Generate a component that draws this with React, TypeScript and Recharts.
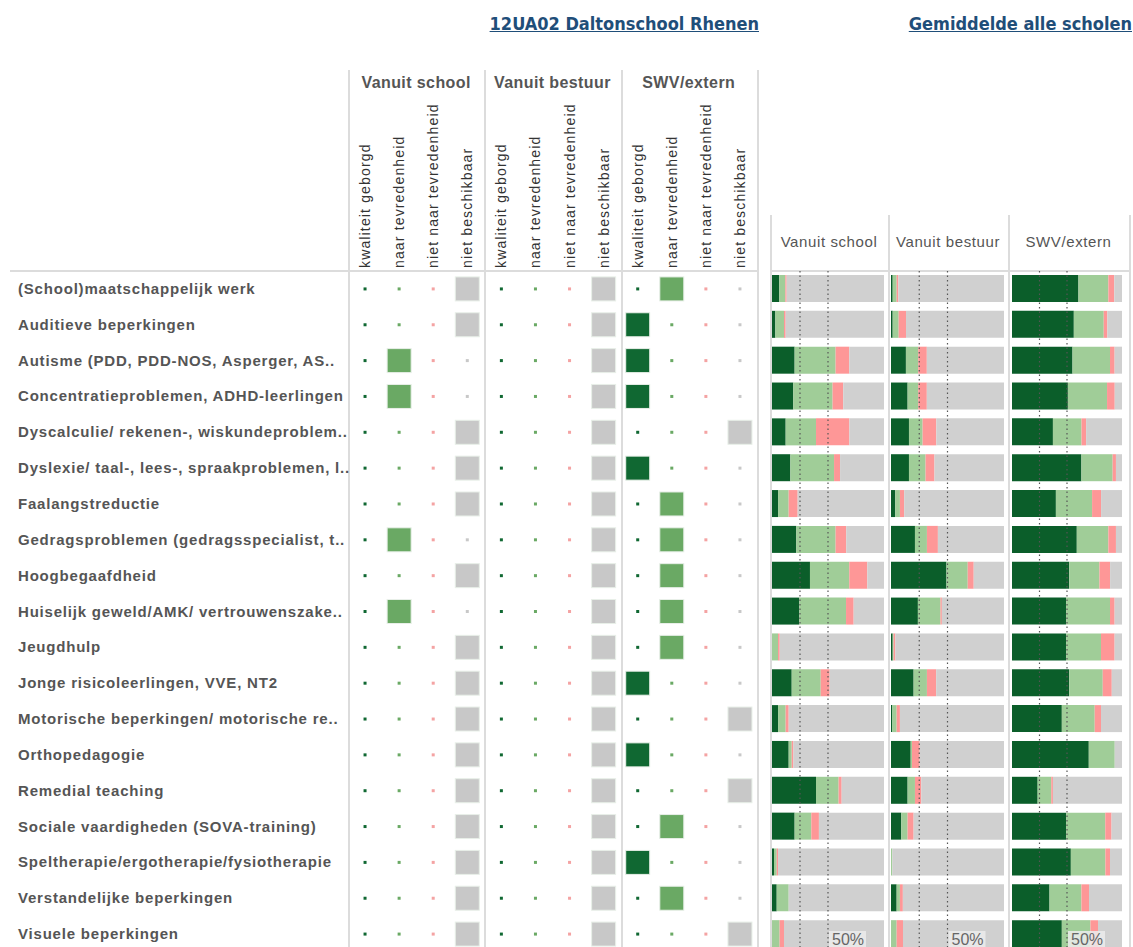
import React from 'react';
import {
  ScatterChart,
  Scatter,
  BarChart,
  Bar,
  XAxis,
  YAxis,
  ReferenceLine,
} from 'recharts';

const rowLabels = [
  '(School)maatschappelijk werk',
  'Auditieve beperkingen',
  'Autisme (PDD, PDD-NOS, Asperger, AS..',
  'Concentratieproblemen, ADHD-leerlingen',
  'Dyscalculie/ rekenen-, wiskundeproblem..',
  'Dyslexie/ taal-, lees-, spraakproblemen, l..',
  'Faalangstreductie',
  'Gedragsproblemen (gedragsspecialist, t..',
  'Hoogbegaafdheid',
  'Huiselijk geweld/AMK/ vertrouwenszake..',
  'Jeugdhulp',
  'Jonge risicoleerlingen, VVE, NT2',
  'Motorische beperkingen/ motorische re..',
  'Orthopedagogie',
  'Remedial teaching',
  'Sociale vaardigheden (SOVA-training)',
  'Speltherapie/ergotherapie/fysiotherapie',
  'Verstandelijke beperkingen',
  'Visuele beperkingen',
];

const groupLabels = ['Vanuit school', 'Vanuit bestuur', 'SWV/extern'];
const columnLabels = ['kwaliteit geborgd', 'naar tevredenheid', 'niet naar tevredenheid', 'niet beschikbaar'];

// answer of this school per group: 0 = geborgd, 1 = tevreden, 2 = niet tevreden, 3 = niet beschikbaar
const schoolChoice = [3, 3, 1, 1, 3, 3, 3, 1, 3, 1, 3, 3, 3, 3, 3, 3, 3, 3, 3];
const bestuurChoice = [3, 3, 3, 3, 3, 3, 3, 3, 3, 3, 3, 3, 3, 3, 3, 3, 3, 3, 3];
const swvChoice = [1, 0, 0, 0, 3, 0, 1, 1, 1, 1, 1, 0, 3, 0, 3, 1, 0, 1, 3];

// average of all schools, percentages
const schoolGeborgd = [6.5, 3, 20.2, 19, 12.2, 16.4, 5.4, 21.7, 33.9, 24.4, 0, 17.6, 5.4, 14.9, 39.3, 20.2, 1.8, 4.2, 0];
const schoolTevreden = [5.4, 7.7, 36.6, 35.1, 27.1, 39, 9.5, 35.1, 35.1, 41.7, 5.4, 25.9, 6.8, 2.7, 20.2, 14.9, 2.4, 10.7, 6.8];
const schoolNiet = [1.2, 1.5, 12.2, 9.5, 29.8, 5.4, 8, 9.5, 16.1, 6.8, 1.5, 8, 2.7, 1.5, 2.7, 6.8, 1.2, 0, 3.9];

const bestuurGeborgd = [1.5, 1.5, 13.2, 14.7, 15.9, 15.9, 3.8, 21.2, 49.1, 23.8, 1.5, 20, 1.2, 17.4, 14.7, 9.1, 0, 5, 0];
const bestuurTevreden = [3.5, 5.3, 10.9, 9.4, 12.1, 14.7, 4.1, 10.6, 18.8, 20, 0.8, 11.8, 3.8, 1.2, 6.5, 5.6, 1.2, 2.9, 5];
const bestuurNiet = [1.5, 6.5, 7.6, 7.6, 12.1, 7.9, 3.8, 9.7, 5.3, 1.2, 1.5, 8.2, 2.9, 6.8, 5.6, 5.3, 0, 2.6, 5.6];

const swvGeborgd = [60.4, 56.2, 55, 50.8, 37.2, 63.1, 39.9, 58.9, 52, 49.2, 49.2, 52, 45.3, 69.8, 23.3, 49.2, 53.5, 34.1, 45.3];
const swvTevreden = [27.2, 27.2, 34.1, 35.6, 26, 28.4, 32.9, 28.7, 27.5, 39.9, 31.7, 30.5, 29.9, 23.6, 12.4, 35.6, 31.4, 29, 26];
const swvNiet = [5.4, 3.3, 4.2, 7, 4.2, 3, 8.2, 6.9, 9.7, 4.2, 12.4, 8.2, 5.7, 0, 1.5, 5.7, 4.2, 6.9, 6.9];

const FONT = '"Liberation Sans", Arial, sans-serif';
const TITLE_FONT = '"DejaVu Sans Condensed", "Liberation Sans", Arial, sans-serif';
const markColors = ['#106832', '#6aa964', '#f4a3a3', '#c8c8c8'];
const barColors = ['#0b5e2a', '#a0cd98', '#fe9797', '#d0d0d0'];

const choices = [schoolChoice, bestuurChoice, swvChoice];

const scatterSeries = columnLabels.map((_, c) =>
  choices.flatMap((choice, g) =>
    rowLabels.map((_, r) => ({ x: g * 4 + c, y: r, on: choice[r] === c }))
  )
);

const makeBars = (a: number[], b: number[], c: number[]) =>
  rowLabels.map((name, i) => ({
    name,
    geborgd: a[i],
    tevreden: b[i],
    niet: c[i],
    rest: Math.max(0, 100 - a[i] - b[i] - c[i]),
  }));

const panels = [
  { label: 'Vanuit school', left: 772, width: 112, data: makeBars(schoolGeborgd, schoolTevreden, schoolNiet) },
  { label: 'Vanuit bestuur', left: 891, width: 113, data: makeBars(bestuurGeborgd, bestuurTevreden, bestuurNiet) },
  { label: 'SWV/extern', left: 1012, width: 110, data: makeBars(swvGeborgd, swvTevreden, swvNiet) },
];

const PLOT_TOP = 271;
const PLOT_H = 681;

function Mark(color: string) {
  return (props: any) => {
    const { cx, cy, payload } = props;
    const s = payload.on ? 24 : 3;
    return (
      <rect
        x={cx - s / 2}
        y={cy - s / 2}
        width={s}
        height={s}
        fill={color}
        stroke={payload.on ? '#e8efe8' : 'none'}
        strokeWidth={payload.on ? 1 : 0}
      />
    );
  };
}

const RowTick = (props: any) => (
  <text
    x={18}
    y={props.y}
    dy={5}
    fontFamily={FONT}
    fontSize={15}
    letterSpacing={0.8}
    fontWeight="bold"
    fill="#555"
  >
    {rowLabels[props.payload.value]}
  </text>
);

const ColTick = (props: any) => (
  <text
    transform={`translate(${props.x + 5},${268 - 95}) rotate(-90)`}
    fontFamily={FONT}
    fontSize={14}
    letterSpacing={1.15}
    fill="#333"
  >
    {columnLabels[props.payload.value % 4]}
  </text>
);

const FiftyLabel = (props: any) => {
  const { viewBox } = props;
  const x = viewBox.x + 1;
  const y = 931 - PLOT_TOP;
  return (
    <g>
      <rect x={x} y={y} width={37} height={22} fill="#ececec" fillOpacity={0.85} />
      <text x={x + 3} y={y + 13.5} fontFamily={FONT} fontSize={16} fill="#666">
        50%
      </text>
    </g>
  );
};

const line = (key: string, style: React.CSSProperties) => (
  <div key={key} style={{ position: 'absolute', background: '#dcdcdc', ...style }} />
);

const titleStyle: React.CSSProperties = {
  position: 'absolute',
  top: 13,
  fontFamily: TITLE_FONT,
  fontSize: 18,
  fontWeight: 'bold',
  color: '#1f4e79',
  textDecoration: 'underline',
  whiteSpace: 'nowrap',
};

export default function App() {
  return (
    <div
      style={{
        position: 'absolute',
        left: 0,
        top: 0,
        width: 1133,
        height: 947,
        overflow: 'hidden',
        background: '#fff',
        fontFamily: FONT,
      }}
    >
      <div style={{ ...titleStyle, right: 1133 - 759 }}>12UA02 Daltonschool Rhenen</div>
      <div style={{ ...titleStyle, right: 1 }}>Gemiddelde alle scholen</div>

      {groupLabels.map((g, i) => (
        <div
          key={g}
          style={{
            position: 'absolute',
            left: 348 + i * 136.3,
            width: 136.3,
            top: 74,
            textAlign: 'center',
            fontSize: 16,
            letterSpacing: 0.4,
            fontWeight: 'bold',
            color: '#555',
          }}
        >
          {g}
        </div>
      ))}

      {[348, 484, 621, 757].map((x) => line('v' + x, { left: x, top: 70, width: 2, height: 900 }))}
      {line('h1', { left: 10, top: 270, width: 748, height: 2 })}

      {panels.map((p, i) => (
        <div
          key={p.label}
          style={{
            position: 'absolute',
            left: [770, 888, 1008][i],
            width: [118, 120, 121][i],
            top: 233,
            textAlign: 'center',
            fontSize: 15,
            letterSpacing: 0.6,
            color: '#555',
          }}
        >
          {p.label}
        </div>
      ))}
      {[770, 888, 1008, 1129].map((x) => line('r' + x, { left: x, top: 215, width: 1.5, height: 740 }))}
      {line('h2', { left: 770, top: 270, width: 361, height: 2 })}

      <div style={{ position: 'absolute', left: 0, top: 95 }}>
        <ScatterChart width={760} height={176 + PLOT_H} margin={{ top: 0, right: 3, bottom: 0, left: 0 }}>
          <XAxis
            type="number"
            dataKey="x"
            orientation="top"
            domain={[-0.5, 11.5]}
            ticks={[0, 1, 2, 3, 4, 5, 6, 7, 8, 9, 10, 11]}
            interval={0}
            height={176}
            axisLine={false}
            tickLine={false}
            tick={<ColTick />}
          />
          <YAxis
            type="number"
            dataKey="y"
            domain={[-0.5, 18.5]}
            reversed
            ticks={rowLabels.map((_, i) => i)}
            interval={0}
            width={348}
            axisLine={false}
            tickLine={false}
            tick={<RowTick />}
          />
          {scatterSeries.map((data, c) => (
            <Scatter key={c} data={data} shape={Mark(markColors[c])} isAnimationActive={false} />
          ))}
        </ScatterChart>
      </div>

      {panels.map((p) => (
        <div key={p.label} style={{ position: 'absolute', left: p.left, top: PLOT_TOP }}>
          <BarChart
            layout="vertical"
            width={p.width}
            height={PLOT_H}
            data={p.data}
            margin={{ top: 0, right: 0, bottom: 0, left: 0 }}
            barCategoryGap={0}
          >
            <XAxis type="number" domain={[0, 100]} hide />
            <YAxis type="category" dataKey="name" hide />
            <Bar dataKey="geborgd" stackId="a" fill={barColors[0]} barSize={27} isAnimationActive={false} />
            <Bar dataKey="tevreden" stackId="a" fill={barColors[1]} barSize={27} isAnimationActive={false} />
            <Bar dataKey="niet" stackId="a" fill={barColors[2]} barSize={27} isAnimationActive={false} />
            <Bar dataKey="rest" stackId="a" fill={barColors[3]} barSize={27} isAnimationActive={false} />
            <ReferenceLine x={25} stroke="#555" strokeDasharray="1.5 3" strokeWidth={1.2} />
            <ReferenceLine x={50} stroke="#555" strokeDasharray="1.5 3" strokeWidth={1.2} label={FiftyLabel} />
          </BarChart>
        </div>
      ))}
    </div>
  );
}
